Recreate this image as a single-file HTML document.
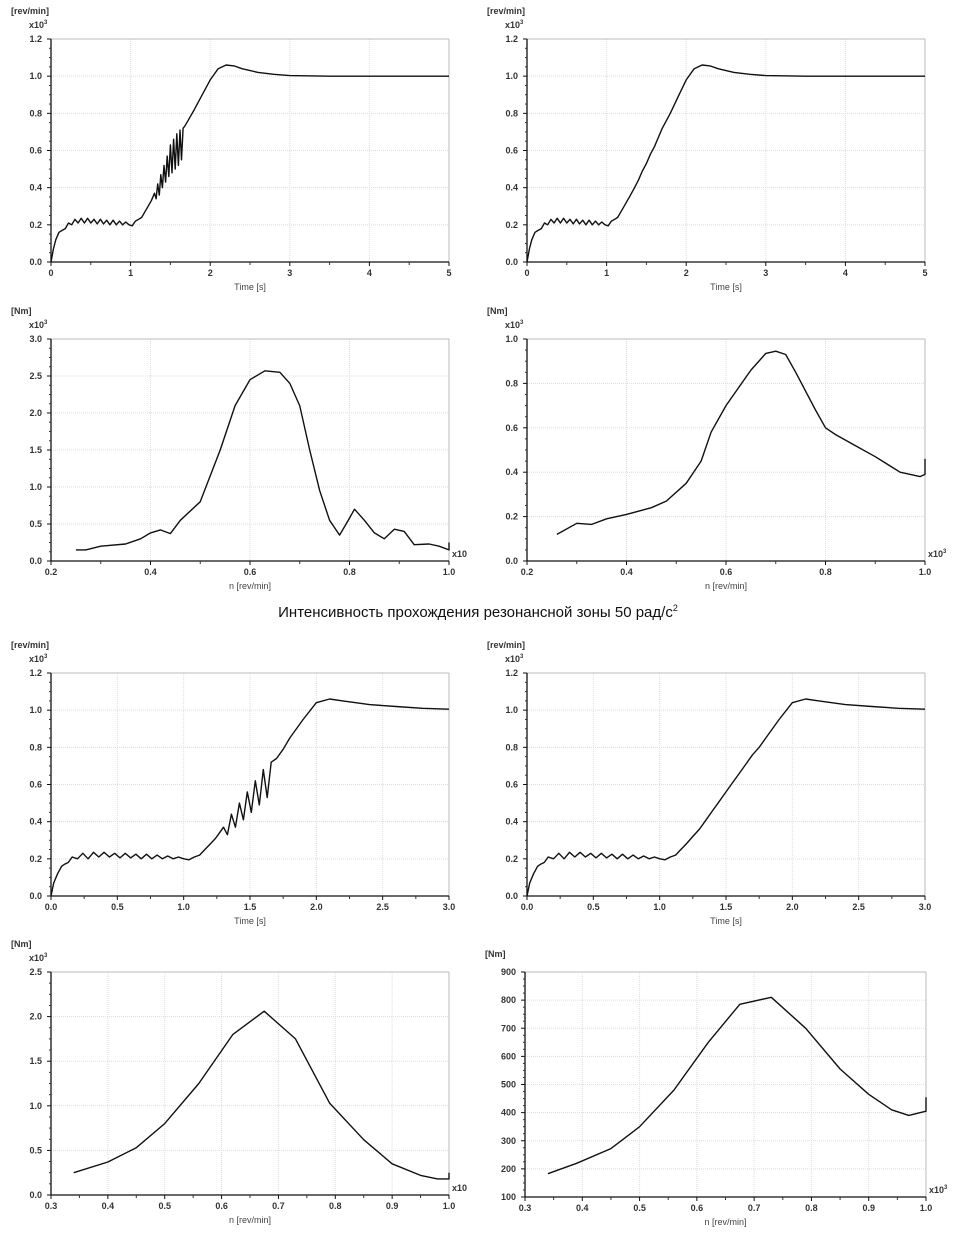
<!DOCTYPE html>
<html><head><meta charset="utf-8">
<style>
body{margin:0;background:#fff;}
svg{display:block;font-family:"Liberation Sans","DejaVu Sans",sans-serif;}
.tk{font-size:9px;font-weight:bold;fill:#333;}
.lb{font-size:9px;fill:#444;}
.cap{font-family:"Liberation Sans","DejaVu Sans",sans-serif;font-size:15px;fill:#111;}
</style></head><body>
<svg id="c" width="954" height="1234" viewBox="0 0 954 1234">
<text class="cap" x="478" y="617" text-anchor="middle">Интенсивность прохождения резонансной зоны 50 рад/с<tspan dy="-6" font-size="9">2</tspan></text>
</svg>
<script>
// ---- data ----
const p1T=[0,0.03,0.06,0.1,0.14,0.18,0.22,0.26,0.3,0.34,0.38,0.42,0.46,0.5,0.54,0.58,0.62,0.66,0.7,0.74,0.78,0.82,0.86,0.9,0.94,0.98,1.02,1.06,1.1,1.14,1.18,1.22,1.26,1.3,1.32,1.34,1.36,1.38,1.4,1.42,1.44,1.46,1.48,1.5,1.52,1.54,1.56,1.58,1.6,1.62,1.64,1.66,1.68,1.72,1.8,1.9,2.0,2.1,2.2,2.3,2.4,2.6,2.8,3.0,3.5,4,5];
const p1V=[0,0.07,0.12,0.16,0.17,0.18,0.21,0.2,0.23,0.21,0.235,0.21,0.235,0.21,0.23,0.205,0.23,0.205,0.225,0.2,0.225,0.2,0.22,0.2,0.215,0.2,0.195,0.22,0.23,0.24,0.27,0.3,0.33,0.37,0.34,0.42,0.36,0.47,0.4,0.52,0.43,0.57,0.46,0.63,0.48,0.66,0.5,0.69,0.52,0.71,0.55,0.72,0.73,0.76,0.82,0.9,0.98,1.04,1.06,1.055,1.04,1.02,1.01,1.003,1.0,1.0,1.0];
const p2T=[0,0.03,0.06,0.1,0.14,0.18,0.22,0.26,0.3,0.34,0.38,0.42,0.46,0.5,0.54,0.58,0.62,0.66,0.7,0.74,0.78,0.82,0.86,0.9,0.94,0.98,1.02,1.06,1.1,1.14,1.18,1.22,1.26,1.3,1.35,1.4,1.45,1.5,1.55,1.6,1.65,1.7,1.8,1.9,2.0,2.1,2.2,2.3,2.4,2.6,2.8,3.0,3.5,4,5];
const p2V=[0,0.07,0.12,0.16,0.17,0.18,0.21,0.2,0.23,0.21,0.235,0.21,0.235,0.21,0.23,0.205,0.23,0.205,0.225,0.2,0.225,0.2,0.22,0.2,0.215,0.2,0.195,0.22,0.23,0.24,0.27,0.3,0.33,0.36,0.4,0.44,0.49,0.53,0.58,0.62,0.67,0.72,0.8,0.89,0.98,1.04,1.06,1.055,1.04,1.02,1.01,1.003,1.0,1.0,1.0];
const p5T=[0,0.02,0.05,0.08,0.1,0.13,0.16,0.2,0.24,0.28,0.32,0.36,0.4,0.44,0.48,0.52,0.56,0.6,0.64,0.68,0.72,0.76,0.8,0.84,0.88,0.92,0.96,1.0,1.04,1.08,1.12,1.16,1.2,1.24,1.27,1.3,1.33,1.36,1.39,1.42,1.45,1.48,1.51,1.54,1.57,1.6,1.63,1.66,1.7,1.75,1.8,1.9,2.0,2.1,2.2,2.4,2.6,2.8,3.0];
const p5V=[0,0.07,0.12,0.16,0.17,0.18,0.21,0.2,0.23,0.2,0.235,0.21,0.235,0.21,0.23,0.205,0.23,0.205,0.225,0.2,0.225,0.2,0.22,0.2,0.215,0.2,0.21,0.2,0.195,0.21,0.22,0.25,0.28,0.31,0.34,0.37,0.33,0.44,0.37,0.5,0.41,0.56,0.45,0.62,0.49,0.68,0.53,0.72,0.74,0.79,0.85,0.95,1.04,1.06,1.05,1.03,1.02,1.01,1.005];
const p6T=[0,0.02,0.05,0.08,0.1,0.13,0.16,0.2,0.24,0.28,0.32,0.36,0.4,0.44,0.48,0.52,0.56,0.6,0.64,0.68,0.72,0.76,0.8,0.84,0.88,0.92,0.96,1.0,1.04,1.08,1.12,1.16,1.2,1.25,1.3,1.35,1.4,1.45,1.5,1.55,1.6,1.65,1.7,1.75,1.8,1.9,2.0,2.1,2.2,2.4,2.6,2.8,3.0];
const p6V=[0,0.07,0.12,0.16,0.17,0.18,0.21,0.2,0.23,0.2,0.235,0.21,0.235,0.21,0.23,0.205,0.23,0.205,0.225,0.2,0.225,0.2,0.22,0.2,0.215,0.2,0.21,0.2,0.195,0.21,0.22,0.25,0.28,0.32,0.36,0.41,0.46,0.51,0.56,0.61,0.66,0.71,0.76,0.8,0.85,0.95,1.04,1.06,1.05,1.03,1.02,1.01,1.005];
const p3N=[0.25,0.27,0.3,0.35,0.38,0.4,0.42,0.44,0.46,0.5,0.54,0.57,0.6,0.63,0.66,0.68,0.7,0.72,0.74,0.76,0.78,0.8,0.81,0.83,0.85,0.87,0.89,0.91,0.93,0.96,0.98,1.0,1.0];
const p3M=[0.15,0.15,0.2,0.23,0.3,0.38,0.42,0.37,0.55,0.8,1.5,2.1,2.45,2.57,2.55,2.4,2.1,1.5,0.95,0.55,0.35,0.58,0.7,0.55,0.38,0.3,0.43,0.4,0.22,0.23,0.2,0.15,0.25];
const p4N=[0.26,0.3,0.33,0.36,0.4,0.45,0.48,0.52,0.55,0.57,0.6,0.65,0.68,0.7,0.72,0.74,0.78,0.8,0.82,0.86,0.9,0.95,0.99,1.0,1.0];
const p4M=[0.12,0.17,0.165,0.19,0.21,0.24,0.27,0.35,0.45,0.58,0.7,0.86,0.935,0.945,0.93,0.85,0.68,0.6,0.57,0.52,0.47,0.4,0.38,0.39,0.46];
const p7N=[0.34,0.4,0.45,0.5,0.56,0.62,0.675,0.73,0.79,0.85,0.9,0.95,0.98,1.0,1.0];
const p7M=[0.25,0.37,0.53,0.8,1.25,1.8,2.06,1.75,1.03,0.62,0.35,0.22,0.18,0.18,0.25];
const p8N=[0.34,0.39,0.45,0.5,0.56,0.62,0.675,0.73,0.79,0.85,0.9,0.94,0.97,1.0,1.0];
const p8M=[183,220,272,350,480,650,785,810,700,555,465,410,390,405,455];
const ticks5=[0,1,2,3,4,5], ticks3=[0,0.5,1,1.5,2,2.5,3], ticksN=[0.2,0.4,0.6,0.8,1.0], ticksN3=[0.3,0.4,0.5,0.6,0.7,0.8,0.9,1.0];
const yS=[0,0.2,0.4,0.6,0.8,1.0,1.2], yT3=[0,0.5,1,1.5,2,2.5,3], yT1=[0,0.2,0.4,0.6,0.8,1.0], yT25=[0,0.5,1,1.5,2,2.5], yT900=[100,200,300,400,500,600,700,800,900];

const NS='http://www.w3.org/2000/svg';
const svg=document.getElementById('c');
function mk(tag,at,parent){const e=document.createElementNS(NS,tag);for(const k in at)e.setAttribute(k,at[k]);(parent||svg).appendChild(e);return e;}
function panel(o){
 const g=mk('g',{});
 
 
 const sx=v=>o.x0+(v-o.xmin)/(o.xmax-o.xmin)*(o.x1-o.x0);
 const sy=v=>o.y1-(v-o.ymin)/(o.ymax-o.ymin)*(o.y1-o.y0);
 // grid
 o.xt.forEach(v=>{mk('line',{x1:sx(v),x2:sx(v),y1:o.y0,y2:o.y1,stroke:'#ddd','stroke-width':1,'stroke-dasharray':'1,1'},g);});
 o.yt.forEach(v=>{mk('line',{x1:o.x0,x2:o.x1,y1:sy(v),y2:sy(v),stroke:'#ddd','stroke-width':1,'stroke-dasharray':'1,1'},g);});
 mk('line',{x1:o.x0,x2:o.x1,y1:o.y0,y2:o.y0,stroke:'#bbb'},g);
 mk('line',{x1:o.x1,x2:o.x1,y1:o.y0,y2:o.y1,stroke:'#bbb'},g);
 // axes
 mk('line',{x1:o.x0,x2:o.x0,y1:o.y0,y2:o.y1,stroke:'#111','stroke-width':1.3},g);
 mk('line',{x1:o.x0,x2:o.x1,y1:o.y1,y2:o.y1,stroke:'#111','stroke-width':1.3},g);
 // minor ticks
 for(let i=0;i<o.yt.length-1;i++){const a=o.yt[i],b=o.yt[i+1];for(let k=1;k<4;k++){const y=sy(a+(b-a)*k/4);mk('line',{x1:o.x0-2,x2:o.x0,y1:y,y2:y,stroke:'#333'},g);}}
 for(let i=0;i<o.xt.length-1;i++){const a=o.xt[i],b=o.xt[i+1];const x=sx((a+b)/2);mk('line',{x1:x,x2:x,y1:o.y1,y2:o.y1+3,stroke:'#333'},g);}
 o.yt.forEach(v=>{mk('line',{x1:o.x0-4,x2:o.x0,y1:sy(v),y2:sy(v),stroke:'#111'},g);
  const t=mk('text',{class:'tk',x:o.x0-9,y:sy(v)+3,'text-anchor':'end'},g);t.textContent=o.yf(v);});
 o.xt.forEach(v=>{mk('line',{x1:sx(v),x2:sx(v),y1:o.y1,y2:o.y1+4,stroke:'#111'},g);
  const t=mk('text',{class:'tk',x:sx(v),y:o.y1+14,'text-anchor':'middle'},g);t.textContent=o.xf(v);});
 let t=mk('text',{class:'lb',x:(o.x0+o.x1)/2,y:o.y1+28,'text-anchor':'middle'},g);t.textContent=o.xl;
 t=mk('text',{class:'tk',x:o.x0-40,y:o.y0-25+(o.noexp?10:0)},g);t.textContent=o.yl;
 if(!o.noexp){t=mk('text',{class:'tk',x:o.x0-22,y:o.y0-11},g);t.innerHTML='x10<tspan dy="-4" font-size="6">3</tspan>';}
 if(o.xexp){t=mk('text',{class:'tk',x:o.x1+3,y:o.y1-4},g);t.innerHTML=o.xexp;}
 let d='';o.X.forEach((v,i)=>{d+=(i?'L':'M')+sx(v).toFixed(1)+','+sy(o.Y[i]).toFixed(1);});
 const p=mk('path',{d:d,fill:'none',stroke:'#111','stroke-width':1.4,'stroke-linejoin':'round'},g);
 
 
}
const f1=v=>v.toFixed(1),f0=v=>String(v);
panel({name:'speed-chart-top-left',x0:51,x1:449,y0:39,y1:262,xmin:0,xmax:5,ymin:0,ymax:1.2,xt:ticks5,yt:yS,xf:f0,yf:f1,xl:'Time [s]',yl:'[rev/min]',X:p1T,Y:p1V});
panel({name:'speed-chart-top-right',x0:527,x1:925,y0:39,y1:262,xmin:0,xmax:5,ymin:0,ymax:1.2,xt:ticks5,yt:yS,xf:f0,yf:f1,xl:'Time [s]',yl:'[rev/min]',X:p2T,Y:p2V});
panel({name:'torque-chart-top-left',x0:51,x1:449,y0:339,y1:561,xmin:0.2,xmax:1.0,ymin:0,ymax:3,xt:ticksN,yt:yT3,xf:f1,yf:f1,xl:'n [rev/min]',yl:'[Nm]',X:p3N,Y:p3M,xexp:'x10'});
panel({name:'torque-chart-top-right',x0:527,x1:925,y0:339,y1:561,xmin:0.2,xmax:1.0,ymin:0,ymax:1,xt:ticksN,yt:yT1,xf:f1,yf:f1,xl:'n [rev/min]',yl:'[Nm]',X:p4N,Y:p4M,xexp:'x10<tspan dy="-4" font-size="6">3</tspan>'});
panel({name:'speed-chart-bottom-left',x0:51,x1:449,y0:673,y1:896,xmin:0,xmax:3,ymin:0,ymax:1.2,xt:ticks3,yt:yS,xf:f1,yf:f1,xl:'Time [s]',yl:'[rev/min]',X:p5T,Y:p5V});
panel({name:'speed-chart-bottom-right',x0:527,x1:925,y0:673,y1:896,xmin:0,xmax:3,ymin:0,ymax:1.2,xt:ticks3,yt:yS,xf:f1,yf:f1,xl:'Time [s]',yl:'[rev/min]',X:p6T,Y:p6V});
panel({name:'torque-chart-bottom-left',x0:51,x1:449,y0:972,y1:1195,xmin:0.3,xmax:1.0,ymin:0,ymax:2.5,xt:ticksN3,yt:yT25,xf:f1,yf:f1,xl:'n [rev/min]',yl:'[Nm]',X:p7N,Y:p7M,xexp:'x10'});
panel({name:'torque-chart-bottom-right',x0:525,x1:926,y0:972,y1:1197,xmin:0.3,xmax:1.0,ymin:100,ymax:900,xt:ticksN3,yt:yT900,xf:f1,yf:f0,xl:'n [rev/min]',yl:'[Nm]',X:p8N,Y:p8M,noexp:true,xexp:'x10<tspan dy="-4" font-size="6">3</tspan>'});
</script>
</body></html>
